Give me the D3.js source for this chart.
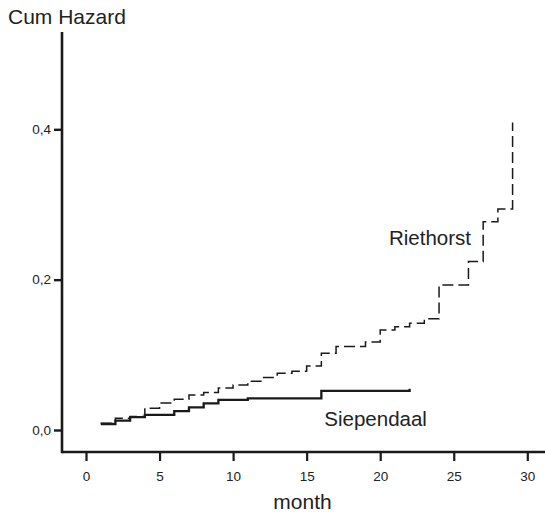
<!DOCTYPE html>
<html>
<head>
<meta charset="utf-8">
<script src="https://cdn.jsdelivr.net/npm/d3@7"></script>
<style>
    body { margin: 0; background: #fff; }
    svg { display: block; font-family: "Liberation Sans", Arial, sans-serif; }
</style>
</head>
<body>
<svg width="545" height="515"></svg>
<script>
// step points: [month, cumulative hazard]
var riethorst = [
    [1, 0.009], [2, 0.0155], [3, 0.018], [4, 0.029], [5, 0.036], [6, 0.041],
    [7, 0.0466], [8, 0.05], [9, 0.056], [10, 0.06], [11, 0.065], [12, 0.07],
    [13, 0.0755], [14, 0.078], [15, 0.085], [16, 0.102], [17, 0.111], [19, 0.117],
    [20, 0.133], [21, 0.1375], [22, 0.142], [23, 0.148], [24, 0.193], [26, 0.224],
    [27, 0.277], [28, 0.294], [29, 0.409]
]
var siependaal = [
    [1, 0.008], [2, 0.0124], [3, 0.017], [4, 0.02], [6, 0.025], [7, 0.03],
    [8, 0.0355], [9, 0.04], [11, 0.042], [16, 0.052], [22, 0.055]
]
var xTicks = [0, 5, 10, 15, 20, 25, 30]
var yTicks = [0, 0.2, 0.4]
var labels = [
    { name: 'Riethorst', month: 20.6, value: 0.246 },
    { name: 'Siependaal', month: 16.2, value: 0.005 }
]

var svg = d3.select('svg')

var x = d3.scaleLinear()
    .domain([0, 30])
    .range([86, 527.3])
var y = d3.scaleLinear()
    .domain([0, 0.4])
    .range([430, 129.3])

var axisY = 452,
    axisX = 62

// x axis
var gx = svg.append('g')
    .attr('transform', 'translate(0,' + axisY + ')')
    .call(d3.axisBottom(x)
        .tickValues(xTicks)
        .tickSize(9)
        .tickPadding(10)
        .tickFormat(d3.format('d')))
gx.select('.domain').remove()
gx.selectAll('.tick line')
    .style('stroke', '#1a1a1a')
    .style('stroke-width', 2.2)
gx.selectAll('.tick text')
    .style('font-size', '13.5px')
    .style('fill', '#222')
    .style('font-family', '"Liberation Sans", Arial, sans-serif')

svg.append('line')
    .attr('x1', axisX)
    .attr('x2', 545)
    .attr('y1', axisY)
    .attr('y2', axisY)
    .style('stroke', '#1a1a1a')
    .style('stroke-width', 2.6)

// y axis
var gy = svg.append('g')
    .attr('transform', 'translate(' + axisX + ',0)')
    .call(d3.axisLeft(y)
        .tickValues(yTicks)
        .tickSize(8)
        .tickPadding(3)
        .tickFormat(function (d) { return d3.format('.1f')(d).replace('.', ',') }))
gy.select('.domain').remove()
gy.selectAll('.tick line')
    .style('stroke', '#1a1a1a')
    .style('stroke-width', 2.4)
gy.selectAll('.tick text')
    .style('font-size', '13.5px')
    .style('fill', '#222')
    .style('font-family', '"Liberation Sans", Arial, sans-serif')

svg.append('line')
    .attr('x1', axisX)
    .attr('x2', axisX)
    .attr('y1', 32)
    .attr('y2', axisY + 1.3)
    .style('stroke', '#1a1a1a')
    .style('stroke-width', 2.6)

// titles
svg.append('text')
    .attr('x', 8)
    .attr('y', 24)
    .style('font-size', '21px')
    .style('fill', '#222')
    .text('Cum Hazard')

svg.append('text')
    .attr('x', 302.5)
    .attr('y', 509)
    .attr('text-anchor', 'middle')
    .style('font-size', '21px')
    .style('fill', '#222')
    .text('month')

// curves
var line = d3.line()
    .x(function (d) { return x(d[0]) })
    .y(function (d) { return y(d[1]) })
    .curve(d3.curveStepAfter)

svg.append('path')
    .datum(riethorst)
    .attr('d', line)
    .style('fill', 'none')
    .style('stroke', '#1a1a1a')
    .style('stroke-width', 1.5)
    .style('stroke-dasharray', '11,5')

svg.append('path')
    .datum(siependaal)
    .attr('d', line)
    .style('fill', 'none')
    .style('stroke', '#1a1a1a')
    .style('stroke-width', 2.3)

svg.selectAll('.lbl')
    .data(labels)
    .enter()
    .append('text')
    .attr('class', 'lbl')
    .attr('x', function (d) { return x(d.month) })
    .attr('y', function (d) { return y(d.value) })
    .style('font-size', '20.5px')
    .style('fill', '#222')
    .text(function (d) { return d.name })
</script>
</body>
</html>
